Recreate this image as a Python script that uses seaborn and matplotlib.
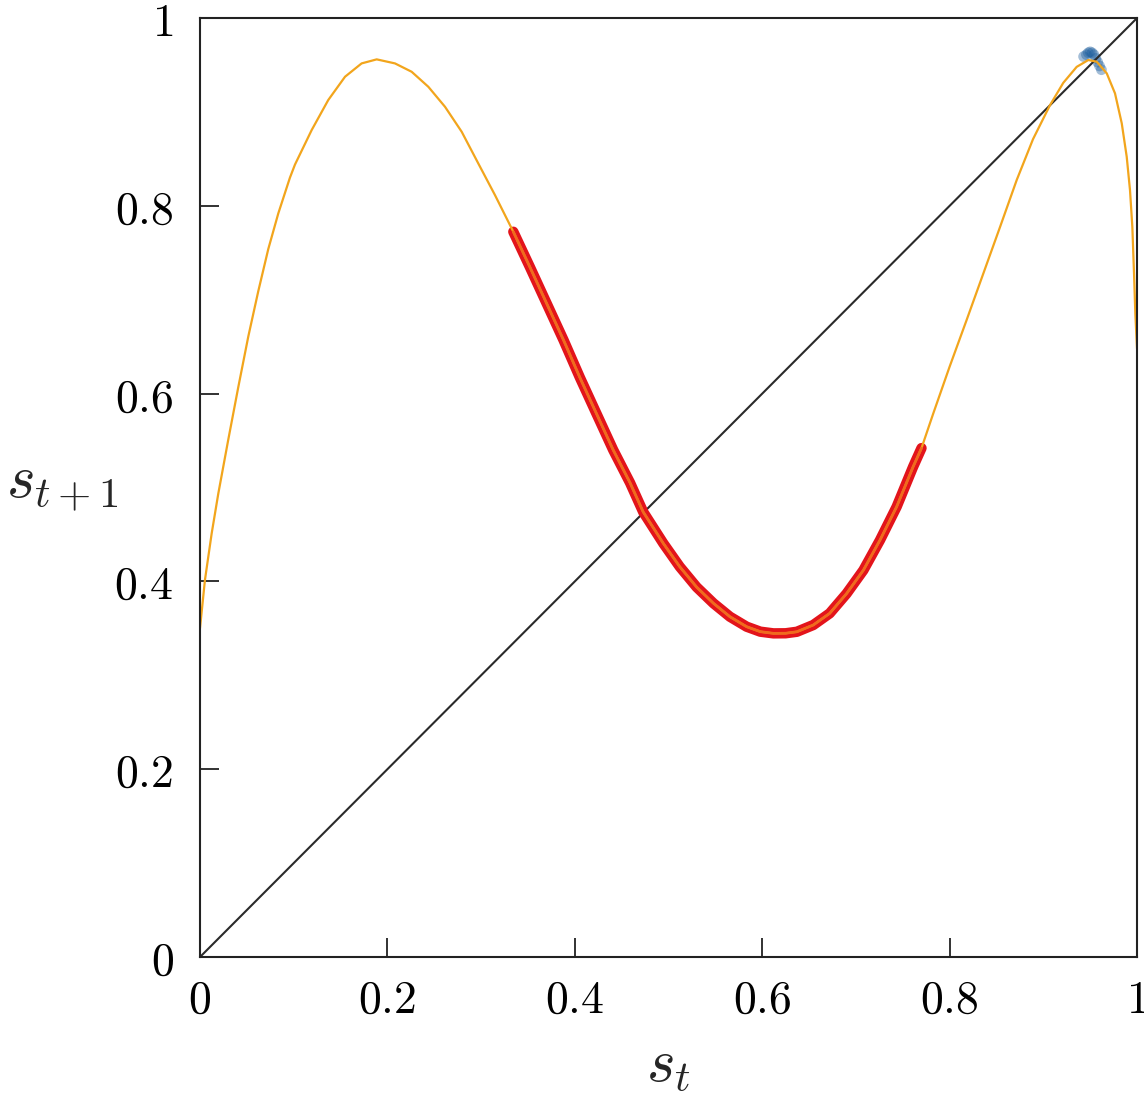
import numpy as np
import matplotlib
matplotlib.use("Agg")
import matplotlib.pyplot as plt
import seaborn as sns

# orange map curve s_{t+1} = f(s_t)
curve_x = [0.0, 0.0053, 0.0125, 0.0196, 0.0302, 0.0409, 0.0516, 0.0622, 0.0729, 0.0836,
           0.096, 0.1014, 0.1192, 0.1369, 0.1548, 0.1725, 0.1886, 0.2081, 0.2259, 0.2437,
           0.2615, 0.2793, 0.297, 0.3148, 0.3344, 0.352, 0.370, 0.388, 0.4055, 0.423,
           0.441, 0.459, 0.473, 0.4945, 0.512, 0.530, 0.548, 0.5656, 0.5834, 0.598,
           0.612, 0.625, 0.637, 0.6545, 0.672, 0.690, 0.708, 0.7257, 0.7435, 0.761,
           0.770, 0.7826, 0.800, 0.818, 0.836, 0.854, 0.8716, 0.889, 0.907,
           0.9213, 0.9356, 0.948, 0.957, 0.9677, 0.9765, 0.9837, 0.989, 0.9925, 0.995,
           0.9968, 0.9982, 1.0]
curve_y = [0.350, 0.4015, 0.4512, 0.4938, 0.551, 0.607, 0.661, 0.709, 0.754, 0.792,
           0.830, 0.844, 0.8807, 0.9127, 0.9375, 0.9517, 0.956, 0.9517, 0.9428, 0.9268,
           0.9055, 0.8789, 0.8452, 0.8115, 0.7724, 0.735, 0.696, 0.657, 0.617, 0.579,
           0.540, 0.505, 0.474, 0.4405, 0.4157, 0.394, 0.3767, 0.3624, 0.3518, 0.3465,
           0.3447, 0.3448, 0.3464, 0.3536, 0.366, 0.387, 0.412, 0.444, 0.4796, 0.522,
           0.542, 0.579, 0.6287, 0.678, 0.728, 0.778, 0.8275, 0.871, 0.907,
           0.931, 0.948, 0.9553, 0.9535, 0.9411, 0.9198, 0.8879, 0.8523, 0.8168, 0.7777,
           0.7281, 0.685, 0.648]

# red (noisy chaotic) stretch of the orbit
red_lo, red_hi = 0.334, 0.770

# blue points near the upper fixed region
blue_x = [0.943, 0.946, 0.948, 0.950, 0.952, 0.954, 0.956, 0.958, 0.960, 0.962]
blue_y = [0.959, 0.961, 0.963, 0.964, 0.963, 0.961, 0.957, 0.953, 0.949, 0.945]

diag = [0.0, 1.0]
ticks = [0.0, 0.2, 0.4, 0.6, 0.8, 1.0]
tick_labels = ["$0$", "$0.2$", "$0.4$", "$0.6$", "$0.8$", "$1$"]

sns.set_style("ticks")
plt.rcParams["mathtext.fontset"] = "cm"
plt.rcParams["font.family"] = ["DejaVu Serif"]

fig = plt.figure(figsize=(11.44, 10.94), dpi=100)
ax = fig.add_axes([0.1748, 0.1252, 0.8191, 0.8583])

cx = np.array(curve_x)
cy = np.array(curve_y)
m = (cx >= red_lo) & (cx <= red_hi)

sns.lineplot(x=diag, y=diag, ax=ax, color="#2a2a2a", lw=1.5, sort=False)
sns.lineplot(x=cx[m], y=cy[m], ax=ax, color="#e3141b", lw=7.5, sort=False,
             solid_joinstyle="round", solid_capstyle="round")
sns.lineplot(x=cx, y=cy, ax=ax, color="#f2a51c", lw=1.6, sort=False,
             solid_joinstyle="round")
sns.lineplot(x=cx[m], y=cy[m], ax=ax, color="#f06a1e", lw=2.0, sort=False,
             solid_joinstyle="round")
sns.scatterplot(x=blue_x, y=blue_y, ax=ax, color="#1a5c9c", s=60, alpha=0.4,
                edgecolor="none")

ax.set_xlim(0, 1)
ax.set_ylim(0, 1)
ax.set_xticks(ticks, labels=tick_labels)
ax.set_yticks(ticks, labels=tick_labels)
ax.tick_params(direction="in", length=14, width=1.3, labelsize=33, colors="#222222",
               labelcolor="black", top=False, right=False)
ax.tick_params(axis="x", pad=15)
ax.tick_params(axis="y", pad=19)
for sp in ax.spines.values():
    sp.set_visible(True)
    sp.set_linewidth(1.5)
    sp.set_color("#222222")

ax.set_xlabel("$s_t$", fontsize=44, va="center", ha="center")
ax.set_ylabel("$s_{t+1}$", fontsize=44, rotation=0, va="center", ha="center")
ax.xaxis.set_label_coords(0.5, -0.113)
ax.yaxis.set_label_coords(-0.147, 0.505)

fig.savefig("out.png", dpi=100)
